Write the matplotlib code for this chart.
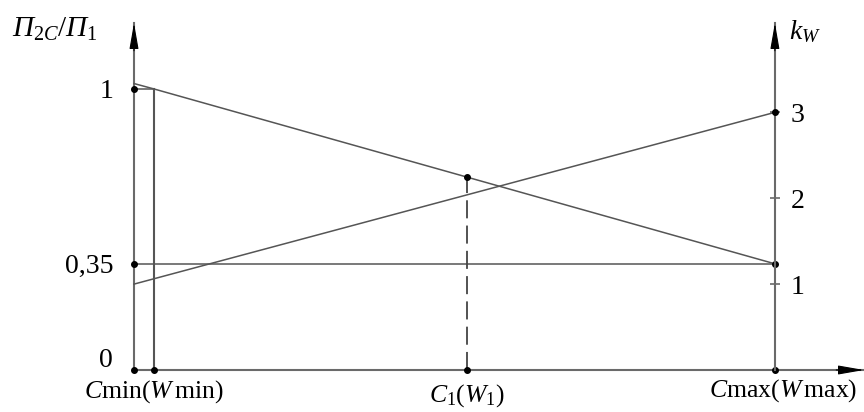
import matplotlib
matplotlib.use('Agg')
import matplotlib.pyplot as plt

# =============================================================================
# Data (schematic diagram)
# =============================================================================
# positions along the C axis (0 = left axis, 1 = Cmax)
c_axis = 0.0
c_min = 0.031
c_1 = 0.52
c_max = 1.0

# П2С/П1 line (left scale): through (Cmin, 1) and (Cmax, 0.35), extended to axis
p_x = [c_axis, c_min, c_max]
p_y = [1.02, 1.0, 0.35]
p_low = 0.35
p_c1 = 0.672          # П value where the dashed C1 line stops

# k_W line (right scale)
k_x = [c_axis, c_max]
k_y = [1.0, 3.0]

left_ticks = [0, 0.35, 1]
left_labels = ['0', '0,35', '1']
right_ticks = [1, 2, 3]
right_labels = ['1', '2', '3']

x_labels = [r'$C\mathrm{min}(W\,\mathrm{min})$', r'$C_1(W_1)$', r'$C\mathrm{max}(W\,\mathrm{max})$']
x_label_pos = [c_min, c_1, c_max]

# axis limits
y_bottom = -0.0446
y_top = 1.245
k_top = 4.04
x_right = 1.139

# =============================================================================
# Style
# =============================================================================
plt.rcParams['font.family'] = ['Liberation Serif', 'DejaVu Serif']
plt.rcParams['mathtext.fontset'] = 'custom'
plt.rcParams['mathtext.rm'] = 'Liberation Serif'
plt.rcParams['mathtext.it'] = 'Liberation Serif:italic'

line_col = '#555555'
axis_col = '#6a6a6a'
fs = 20

fig = plt.figure(figsize=(8.64, 4.12), dpi=100)
ax = fig.add_axes([134 / 864, 42 / 412, (864 - 134) / 864, 347 / 412])
ax.set_xlim(0, x_right)
ax.set_ylim(y_bottom, y_top)
for s in ax.spines.values():
    s.set_visible(False)

ax2 = ax.twinx()
ax2.set_ylim(0, k_top)
for s in ax2.spines.values():
    s.set_visible(False)
ax2.spines['right'].set_position(('data', c_max))

# axis lines
ax.plot([0, 0], [y_bottom, y_top], color=axis_col, lw=1.5, clip_on=False)
ax.plot([0, x_right], [y_bottom, y_bottom], color=axis_col, lw=1.5, clip_on=False)
ax2.plot([c_max, c_max], [0, k_top], color=axis_col, lw=1.5, clip_on=False)

# black arrow heads
head = dict(arrowstyle='-|>,head_length=0.8,head_width=0.14', color='black',
            lw=0.8, shrinkA=0, shrinkB=0, mutation_scale=20)
ax.annotate('', xy=(0, y_top), xytext=(0, -20), textcoords='offset points',
            arrowprops=head, annotation_clip=False)
ax.annotate('', xy=(x_right, y_bottom), xytext=(-20, 0), textcoords='offset points',
            arrowprops=head, annotation_clip=False)
ax2.annotate('', xy=(c_max, k_top), xytext=(0, -20), textcoords='offset points',
             arrowprops=head, annotation_clip=False)

# lines
ax.plot(p_x, p_y, color=line_col, lw=1.1, clip_on=False)
ax2.plot(k_x, k_y, color=line_col, lw=1.1, clip_on=False)
ax.plot([c_axis, c_max], [p_low, p_low], color=line_col, lw=1.1)
ax.plot([c_axis, c_min], [1, 1], color=line_col, lw=1.1)
ax.plot([c_min, c_min], [y_bottom, 1], color=line_col, lw=1.5)
ax.plot([c_1, c_1], [y_bottom, p_c1], color='#444444', lw=1.3, dashes=(10, 4))

# dots
ms = 4
ax.plot([c_axis, c_min, c_1, c_max], [y_bottom] * 4, 'o', color='black', ms=ms, clip_on=False)
ax.plot([c_axis, c_axis, c_1, c_max], [1, p_low, p_c1, p_low], 'o', color='black', ms=ms, clip_on=False)
ax2.plot([c_max], [3], 'o', color='black', ms=ms, clip_on=False)

# ticks
ax.set_xticks([])
ax.set_yticks(left_ticks, left_labels)
ax.tick_params(axis='y', length=0, pad=15, labelsize=fs)
ax2.set_yticks(right_ticks, right_labels)
ax2.tick_params(axis='y', length=7, width=1.2, direction='inout', color=axis_col,
                pad=8, labelsize=fs)

# bottom labels
offsets = [(0, -6), (0, -9), (6, -5)]
for lab, xp, off in zip(x_labels, x_label_pos, offsets):
    ax.annotate(lab, xy=(xp, y_bottom), xytext=off, textcoords='offset points',
                ha='center', va='top', fontsize=18.5, annotation_clip=False)

# axis titles
fig.text(12 / 864, 1 - 29 / 412, r'$\mathit{П}_{2C}/\mathit{П}_{1}$', fontsize=21, va='center')
fig.text(789 / 864, 1 - 32 / 412, r'$k_W$', fontsize=20, va='center')

fig.savefig('out.png', dpi=100)
